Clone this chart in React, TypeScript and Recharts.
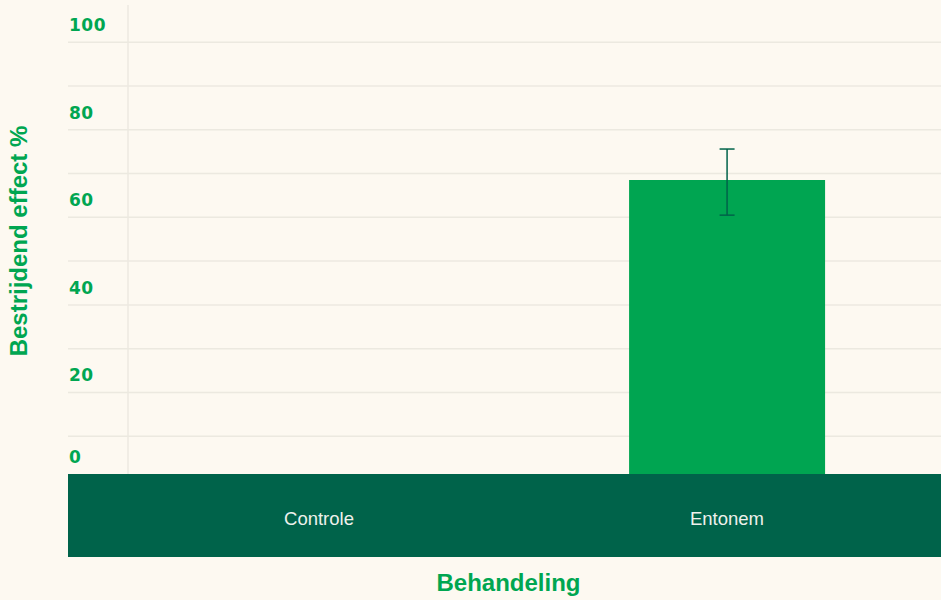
import {
  BarChart,
  Bar,
  XAxis,
  YAxis,
  CartesianGrid,
  ErrorBar,
  Label,
} from "recharts";

// data
const categories = ["Controle", "Entonem"];
const effectValues = [0, 68.5];
const errorLow = [0, 8];
const errorHigh = [0, 7.1];
const yTicks = [0, 10, 20, 30, 40, 50, 60, 70, 80, 90, 100];
const yLabelTicks = [0, 20, 40, 60, 80, 100];

const data = categories.map((name, i) => ({
  name,
  effect: effectValues[i],
  err: [errorLow[i], errorHigh[i]],
}));

const W = 941;
const H = 600;
const PLOT_LEFT = 68;
const PLOT_BOTTOM = 480;
const Y_MAX = 108.5;

const GREEN = "#00a651";
const DARK = "#00634a";
const BG = "#fdf9f1";
const GRID = "#ece9e0";
const SANS = "'Liberation Sans', Arial, sans-serif";

function YTick({ y, payload }: any) {
  if (!yLabelTicks.includes(payload.value)) return null;
  const dy = payload.value === 0 ? -23 : -17;
  return (
    <text
      x={PLOT_LEFT + 1}
      y={y + dy}
      dominantBaseline="central"
      textAnchor="start"
      fill={GREEN}
      fontFamily="'DejaVu Sans', sans-serif"
      fontWeight={700}
      fontSize={17}
      letterSpacing={0.5}
    >
      {payload.value}
    </text>
  );
}

function XTick({ x, index, payload }: any) {
  return (
    <g>
      {index === 0 && (
        <rect x={PLOT_LEFT} y={PLOT_BOTTOM - 6} width={W - PLOT_LEFT} height={83} fill={DARK} />
      )}
      <text
        x={x}
        y={518}
        textAnchor="middle"
        dominantBaseline="central"
        fill="#eef1ec"
        fontFamily={SANS}
        fontSize={18.5}
      >
        {payload.value}
      </text>
    </g>
  );
}

function YTitle() {
  return (
    <text
      x={18}
      y={241}
      transform="rotate(-90 18 241)"
      textAnchor="middle"
      dominantBaseline="central"
      fill={GREEN}
      fontFamily={SANS}
      fontWeight={700}
      fontSize={24}
    >
      Bestrijdend effect %
    </text>
  );
}

export default function App() {
  return (
    <div style={{ position: "absolute", left: 0, top: 0, width: W, height: H, background: BG }}>
      <BarChart
        width={W}
        height={H}
        data={data}
        margin={{ top: 5, right: 0, left: PLOT_LEFT, bottom: 0 }}
        barCategoryGap="26%"
      >
        <CartesianGrid
          stroke={GRID}
          strokeWidth={1.5}
          horizontalCoordinatesGenerator={({ offset }: any) =>
            yTicks.map((t) => offset.top + offset.height * (1 - t / Y_MAX))
          }
          verticalCoordinatesGenerator={({ offset }: any) => [offset.left + 60]}
        />
        <YAxis
          type="number"
          domain={[0, Y_MAX]}
          ticks={yTicks}
          mirror
          axisLine={false}
          tickLine={false}
          tick={<YTick />}
          interval={0}
        >
          <Label content={<YTitle />} />
        </YAxis>
        <Bar dataKey="effect" fill="#00a551" isAnimationActive={false}>
          <ErrorBar dataKey="err" width={7.5} stroke={DARK} strokeWidth={1.5} direction="y" />
        </Bar>
        <XAxis
          dataKey="name"
          interval={0}
          height={120}
          axisLine={false}
          tickLine={false}
          padding={{ left: 47, right: 10 }}
          tick={<XTick />}
        >
          <Label
            value="Behandeling"
            position="insideBottom"
            offset={9}
            dx={4}
            fill={GREEN}
            fontFamily={SANS}
            fontWeight={700}
            fontSize={24}
          />
        </XAxis>
      </BarChart>
    </div>
  );
}
